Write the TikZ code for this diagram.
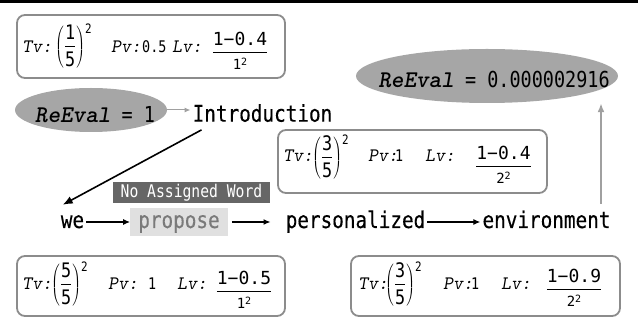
\documentclass[tikz,border=0pt]{standalone}
\usepackage{fontspec}
\usetikzlibrary{arrows.meta,shapes.geometric}
\newfontfamily\gothic[FakeStretch=0.84]{DejaVu Sans Mono}
\newfontfamily\gothicb[FakeStretch=0.84,FakeBold=0.3]{DejaVu Sans Mono}
\newfontfamily\gothicw{DejaVu Sans Mono}
\definecolor{boxgray}{HTML}{8C8C8C}
\definecolor{ellgray}{HTML}{A6A6A6}
\definecolor{tagbg}{HTML}{666666}
\definecolor{propbg}{HTML}{E0E0E0}
\definecolor{proptext}{HTML}{7A7A7A}
\definecolor{arrgray}{HTML}{A0A0A0}
\newcommand\fs[1]{\fontsize{#1}{#1}\selectfont}
\newcommand\labtxt[1]{{\fs{19}\ttfamily\slshape #1}}
\newcommand\pvnum[1]{{\gothic\fs{16}#1}}
\newcommand\tvfr[2]{{\fs{16}$\displaystyle\mathsurround=0pt\left({\hbox{\gothic\fs{20}#1}\above1.6pt\hbox{\gothic\fs{20}#2}}\right)$\raisebox{17pt}{\gothic\fs{13}2}}}
\newcommand\lvfr[2]{\raisebox{-6pt}{\fs{16}$\displaystyle\mathsurround=0pt{\hbox{\gothicw\fs{18}#1}\above1.6pt\hbox{\gothicw\fs{14}#2\raisebox{4pt}{\fs{10}2}}}$}}
\newcommand\evtext[1]{{\ttfamily\bfseries\slshape\fs{24}ReEval}{\gothic\fs{22} = #1}}
\tikzset{
  cell/.style={inner sep=0pt, anchor=base west},
  word/.style={font=\gothicb\fs{23}, inner sep=2pt, text height=17pt, text depth=5pt, anchor=base},
  rbox/.style={draw=boxgray, line width=1.8pt, rounded corners=8pt, inner sep=0pt},
  evell/.style={ellipse, fill=ellgray, inner sep=0pt},
  evtxt/.style={inner sep=0pt, anchor=base},
  arr/.style={line width=1.2pt, -{Latex[length=7pt,width=6pt]}},
  barr/.style={line width=1.6pt, -{Latex[length=10pt,width=8pt]}},
  garr/.style={arrgray, line width=1pt, -{Latex[length=6pt,width=5pt]}},
  garr2/.style={arrgray, line width=1.8pt, -{Latex[length=9pt,width=7pt]}},
}
\begin{document}
\begin{tikzpicture}[x=1pt,y=-1pt]
\useasboundingbox (0,0) rectangle (638,320);
\fill (0,0) rectangle (638,3);
% boxes
\node[rbox, minimum width=268pt, minimum height=63pt] (b1) at (151,46.5) {};
\node[rbox, minimum width=269pt, minimum height=63pt] (b2) at (412.5,161.5) {};
\node[rbox, minimum width=268pt, minimum height=60pt] (b3) at (151,286) {};
\node[rbox, minimum width=269pt, minimum height=60pt] (b4) at (485.5,286) {};
% box 1
\node[cell] (b1tv) at (22,53) {\labtxt{Tv:}};
\node[cell] (b1tf) at (55,51) {\tvfr{1}{5}};
\node[cell] (b1pv) at (111,53) {\labtxt{Pv:}};
\node[cell] (b1pval) at (142,53) {\pvnum{0.5}};
\node[cell] (b1lv) at (172,53) {\labtxt{Lv:}};
\node[inner sep=0pt, anchor=base] (b1lf) at (240,51) {\lvfr{1−0.4}{1}};
% box 2
\node[cell] (b2tv) at (283,162) {\labtxt{Tv:}};
\node[cell] (b2tf) at (312,162) {\tvfr{3}{5}};
\node[cell] (b2pv) at (368,162) {\labtxt{Pv:}};
\node[cell] (b2pval) at (395,162) {\pvnum{1}};
\node[cell] (b2lv) at (425,162) {\labtxt{Lv:}};
\node[inner sep=0pt, anchor=base] (b2lf) at (503.5,165) {\lvfr{1−0.4}{2}};
% box 3
\node[cell] (b3tv) at (22,290) {\labtxt{Tv:}};
\node[cell] (b3tf) at (51,289) {\tvfr{5}{5}};
\node[cell] (b3pv) at (108,290) {\labtxt{Pv:}};
\node[cell] (b3pval) at (148,290) {\pvnum{1}};
\node[cell] (b3lv) at (177,290) {\labtxt{Lv:}};
\node[inner sep=0pt, anchor=base] (b3lf) at (244,290) {\lvfr{1−0.5}{1}};
% box 4
\node[cell] (b4tv) at (358,290) {\labtxt{Tv:}};
\node[cell] (b4tf) at (385,289) {\tvfr{3}{5}};
\node[cell] (b4pv) at (443,290) {\labtxt{Pv:}};
\node[cell] (b4pval) at (471,290) {\pvnum{1}};
\node[cell] (b4lv) at (501,290) {\labtxt{Lv:}};
\node[inner sep=0pt, anchor=base] (b4lf) at (574,288) {\lvfr{1−0.9}{2}};
% ellipses
\node[evell, minimum width=152pt, minimum height=44pt] (ell1) at (91,110) {};
\node[evtxt] (ev1) at (95,122.5) {\evtext{1}};
\node[evell, minimum width=262pt, minimum height=54pt] (ell2) at (487,76) {};
\node[evtxt] (ev2) at (494,88) {\evtext{0.000002916}};
% words
\node[word] (intro) at (262.5,121.7) {Introduction};
\node[word] (we) at (72.5,228) {we};
\node[word, fill=propbg, text=proptext, inner xsep=8pt, inner ysep=3pt] (prop) at (179,228) {propose};
\node[word] (pers) at (355.5,228) {personalized};
\node[word] (env) at (546.5,228) {environment};
\node[fill=tagbg, text=white, font=\gothic\fs{17.5}, inner sep=0pt, minimum width=157pt, minimum height=21pt, text height=13pt, text depth=3.5pt] (tag) at (191.5,192.5) {No Assigned Word};
% connectors
\coordinate (ax) at (601,0);
\draw[garr] (ell1.east) -- (ell1.east -| intro.west);
\draw[barr] ([xshift=11pt,yshift=-1pt]intro.south west) -- ([xshift=4pt,yshift=4pt]we.north west);
\draw[arr] (we.east) -- (prop.west);
\draw[arr, shorten <=4pt, shorten >=13pt] (prop.east) -- (pers.west);
\draw[arr] (pers.east) -- (env.west);
\draw[garr2, shorten <=5pt] (env.north -| ax) -- (ell2.south -| ax);
\end{tikzpicture}
\end{document}
